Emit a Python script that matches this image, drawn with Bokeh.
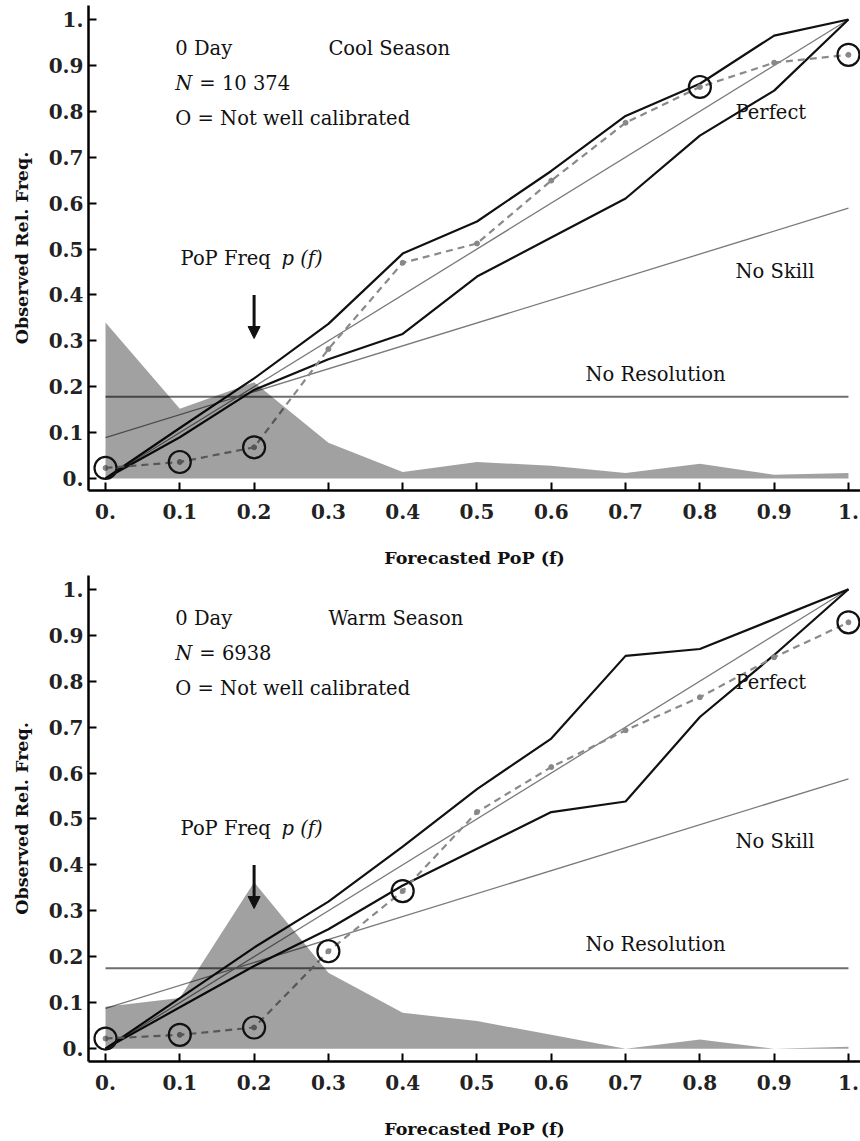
from bokeh.plotting import figure
from bokeh.layouts import column
from bokeh.models import FixedTicker, Arrow, NormalHead, Range1d
from bokeh.core.properties import value
from bokeh.embed import file_html
from bokeh.resources import INLINE

# ---------------- data ----------------
forecast = [0.0, 0.1, 0.2, 0.3, 0.4, 0.5, 0.6, 0.7, 0.8, 0.9, 1.0]
tick_labels = ["0.", "0.1", "0.2", "0.3", "0.4", "0.5", "0.6", "0.7", "0.8", "0.9", "1."]

cool_popfreq = [0.34, 0.152, 0.21, 0.078, 0.014, 0.036, 0.028, 0.012, 0.032, 0.008, 0.012]
cool_obs = [0.023, 0.036, 0.068, 0.282, 0.47, 0.512, 0.649, 0.775, 0.853, 0.906, 0.923]
cool_upper = [0.0, 0.11, 0.218, 0.337, 0.49, 0.56, 0.67, 0.79, 0.86, 0.965, 1.0]
cool_lower = [0.0, 0.09, 0.193, 0.26, 0.315, 0.44, 0.525, 0.61, 0.747, 0.845, 1.0]
cool_flag = [1, 1, 1, 0, 0, 0, 0, 0, 1, 0, 1]
cool_clim = 0.178

warm_popfreq = [0.091, 0.11, 0.362, 0.165, 0.078, 0.06, 0.03, 0.0, 0.02, 0.0, 0.004]
warm_obs = [0.022, 0.03, 0.046, 0.212, 0.343, 0.515, 0.613, 0.693, 0.765, 0.852, 0.928]
warm_upper = [0.0, 0.11, 0.22, 0.32, 0.44, 0.565, 0.675, 0.855, 0.87, 0.935, 1.0]
warm_lower = [0.0, 0.09, 0.18, 0.26, 0.355, 0.435, 0.515, 0.538, 0.722, 0.857, 1.0]
warm_flag = [1, 1, 1, 1, 1, 0, 0, 0, 0, 0, 1]
warm_clim = 0.175

SERIF = "DejaVu Serif"


def panel(season, n_text, popfreq, obs, upper, lower, flag, clim, height, top_border, bottom_border,
          y_start, y_end):
    p = figure(width=860, height=height, output_backend="svg", toolbar_location=None,
               x_range=Range1d(-0.0229, 1.0162), y_range=Range1d(y_start, y_end),
               min_border_left=88, min_border_right=0, min_border_top=top_border,
               min_border_bottom=bottom_border)
    p.outline_line_color = None
    p.xgrid.visible = False
    p.ygrid.visible = False
    p.background_fill_color = "white"
    p.border_fill_color = "white"

    for ax in (p.xaxis[0], p.yaxis[0]):
        ax.ticker = FixedTicker(ticks=forecast)
        ax.major_label_overrides = {t: l for t, l in zip(forecast, tick_labels)}
        ax.major_tick_in = 8
        ax.major_tick_out = 0
        ax.minor_tick_line_color = None
        ax.axis_line_width = 2.5
        ax.major_tick_line_width = 2
        ax.axis_line_color = "black"
        ax.major_tick_line_color = "black"
        ax.major_label_text_font = SERIF
        ax.major_label_text_font_style = "bold"
        ax.major_label_text_font_size = "20px"
        ax.major_label_text_color = "#222222"
        ax.axis_label_text_font = SERIF
        ax.axis_label_text_font_style = "bold"
        ax.axis_label_text_font_size = "17.5px"
        ax.axis_label_text_color = "#111111"
    p.xaxis.major_label_standoff = 13
    p.yaxis.major_label_standoff = 5
    p.xaxis.axis_label = "Forecasted PoP (f)"
    p.yaxis.axis_label = "Observed Rel. Freq."
    p.xaxis.axis_label_standoff = 26
    p.yaxis.axis_label_standoff = 14

    # reference lines
    p.line([0, 1], [0, 1], line_color="#7a7a7a", line_width=1.3)
    p.line([0, 1], [clim / 2, (1 + clim) / 2], line_color="#7a7a7a", line_width=1.3)
    p.line([0, 1], [clim, clim], line_color="#6e6e6e", line_width=2)

    # reliability bounds
    p.line(forecast, upper, line_color="#111111", line_width=2.2)
    p.line(forecast, lower, line_color="#111111", line_width=2.2)

    # observed relative frequency
    p.line(forecast, obs, line_color="#8a8a8a", line_width=2.2, line_dash="7 5")
    p.scatter(forecast, obs, size=5, marker="circle", fill_color="#888888", line_color="#888888")

    # PoP frequency shading (translucent dark over lines)
    zeros = [0.0] * len(forecast)
    p.varea(x=forecast, y1=zeros, y2=popfreq, fill_color="black", fill_alpha=0.37)

    # not-well-calibrated circles
    fx = [f for f, g in zip(forecast, flag) if g]
    fy = [o for o, g in zip(obs, flag) if g]
    p.scatter(fx, fy, size=22, marker="circle", fill_color=None, line_color="#111111", line_width=2.2)

    # arrow
    p.add_layout(Arrow(x_start=0.2, y_start=0.40, x_end=0.2, y_end=0.305,
                       line_width=3, line_color="#111111",
                       end=NormalHead(size=12, line_color="#111111", fill_color="#111111")))

    tf = value(SERIF)
    kw = dict(text_font=tf, text_font_size="19.5px", text_color="#111111",
              text_baseline="middle", text_align="left")
    p.text(x=[0.094], y=[0.937], text=["0 Day"], **kw)
    p.text(x=[0.30], y=[0.937], text=[season], **kw)
    p.text(x=[0.094], y=[0.86], text=["N"], text_font_style="italic", **kw)
    p.text(x=[0.094], y=[0.86], text=[n_text], x_offset=24, **kw)
    p.text(x=[0.094], y=[0.784], text=["O = Not well calibrated"], **kw)
    p.text(x=[0.101], y=[0.48], text=["PoP Freq"], **kw)
    p.text(x=[0.101], y=[0.48], text=["p (f)"], text_font_style="italic", x_offset=101, **kw)
    p.text(x=[0.848], y=[0.797], text=["Perfect"], **kw)
    p.text(x=[0.848], y=[0.452], text=["No Skill"], **kw)
    p.text(x=[0.646], y=[0.226], text=["No Resolution"], **kw)
    return p


p1 = panel("Cool Season", "= 10 374", cool_popfreq, cool_obs, cool_upper, cool_lower, cool_flag,
           cool_clim, 570, 5, 80, -0.0261, 1.0305)
p2 = panel("Warm Season", "= 6938", warm_popfreq, warm_obs, warm_upper, warm_lower, warm_flag,
           warm_clim, 571, 5, 79, -0.028, 1.030)

layout = column(p1, p2, spacing=0)
open("out.html", "w").write(file_html(layout, INLINE))
